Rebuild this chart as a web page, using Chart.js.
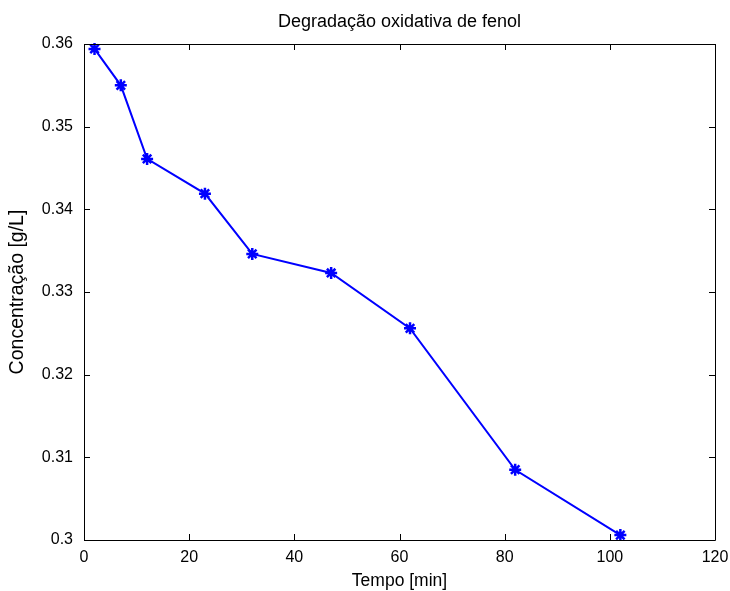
<!DOCTYPE html>
<html>
<head>
<meta charset="utf-8">
<script src="https://cdn.jsdelivr.net/npm/chart.js@4/dist/chart.umd.min.js"></script>
<style>
  html, body { margin: 0; padding: 0; background: #fff; }
  #wrap { width: 730px; height: 591px; }
</style>
</head>
<body>
<div id="wrap"><canvas id="c" width="730" height="591"></canvas></div>
<script>
const tempo = [2, 7, 12, 23, 32, 47, 62, 82, 102];
const concentracao = [0.3594, 0.3550, 0.3461, 0.3419, 0.3346, 0.3323, 0.3256, 0.3085, 0.3006];
const xTicks = [0, 20, 40, 60, 80, 100, 120];
const yTicks = [0.3, 0.31, 0.32, 0.33, 0.34, 0.35, 0.36];
const yTickLabels = ['0.3', '0.31', '0.32', '0.33', '0.34', '0.35', '0.36'];
const titleText = 'Degradação oxidativa de fenol';
const xTitle = 'Tempo [min]';
const yTitle = 'Concentração [g/L]';

const FONT = 'Liberation Sans, Arial, sans-serif';

const boxPlugin = {
  id: 'matlabBox',
  afterDatasetsDraw(chart) {
    const {ctx, chartArea: a, scales: {x, y}} = chart;
    ctx.save();
    ctx.strokeStyle = '#000';
    ctx.lineWidth = 1;
    ctx.beginPath();
    ctx.rect(Math.round(a.left) + 0.5, Math.round(a.top) + 0.5,
             Math.round(a.right - a.left), Math.round(a.bottom - a.top));
    ctx.stroke();
    const L = 6;
    ctx.beginPath();
    x.ticks.forEach(t => {
      const px = Math.round(x.getPixelForValue(t.value)) + 0.5;
      ctx.moveTo(px, a.bottom); ctx.lineTo(px, a.bottom - L);
      ctx.moveTo(px, a.top); ctx.lineTo(px, a.top + L);
    });
    y.ticks.forEach(t => {
      const py = Math.round(y.getPixelForValue(t.value)) + 0.5;
      ctx.moveTo(a.left, py); ctx.lineTo(a.left + L, py);
      ctx.moveTo(a.right, py); ctx.lineTo(a.right - L, py);
    });
    ctx.stroke();
    ctx.restore();
  }
};

new Chart(document.getElementById('c'), {
  type: 'line',
  data: {
    datasets: [{
      data: tempo.map((t, i) => ({x: t, y: concentracao[i]})),
      borderColor: '#0000ff',
      backgroundColor: '#0000ff',
      borderWidth: 2,
      pointStyle: 'star',
      pointRadius: 6,
      pointBorderWidth: 2.5,
      pointBorderColor: '#0000ff',
      tension: 0,
      fill: false,
      clip: false
    }]
  },
  options: {
    responsive: false,
    animation: false,
    devicePixelRatio: 1,
    layout: { padding: { left: 0, right: 15, top: 0, bottom: 0 } },
    plugins: {
      legend: { display: false },
      tooltip: { enabled: false },
      title: {
        display: true,
        fullSize: false,
        text: titleText,
        color: '#000',
        font: { family: FONT, size: 18, weight: 'normal', lineHeight: 1.2 },
        padding: { top: 11.2, bottom: 11.2 }
      }
    },
    scales: {
      x: {
        type: 'linear',
        min: 0, max: 120,
        afterBuildTicks(s) { s.ticks = xTicks.map(v => ({value: v})); },
        afterFit(s) { s.height = 51; s.paddingLeft = 0; s.paddingRight = 0; },
        grid: { display: true, drawOnChartArea: false, drawTicks: false },
        border: { display: false },
        ticks: {
          color: '#000',
          padding: 8,
          maxRotation: 0,
          font: { family: FONT, size: 16 },
          callback: v => String(v)
        },
        title: {
          display: true,
          text: xTitle,
          color: '#000',
          font: { family: FONT, size: 17.5, lineHeight: 1.15 },
          padding: { top: 0, bottom: 0 }
        }
      },
      y: {
        type: 'linear',
        min: 0.3, max: 0.36,
        afterBuildTicks(s) { s.ticks = yTicks.map(v => ({value: v})); },
        afterFit(s) { s.width = 84; s.paddingTop = 0; s.paddingBottom = 0; },
        grid: { display: true, drawOnChartArea: false, drawTicks: false },
        border: { display: false },
        ticks: {
          color: '#000',
          padding: 11,
          font: { family: FONT, size: 16 },
          callback: (v) => {
            const i = yTicks.findIndex(t => Math.abs(t - v) < 1e-9);
            return i >= 0 ? yTickLabels[i] : '';
          }
        },
        title: {
          display: true,
          text: yTitle,
          color: '#000',
          font: { family: FONT, size: 19.5, lineHeight: 1.2 },
          padding: { top: 5.8 }
        }
      }
    }
  },
  plugins: [boxPlugin]
});
</script>
</body>
</html>
